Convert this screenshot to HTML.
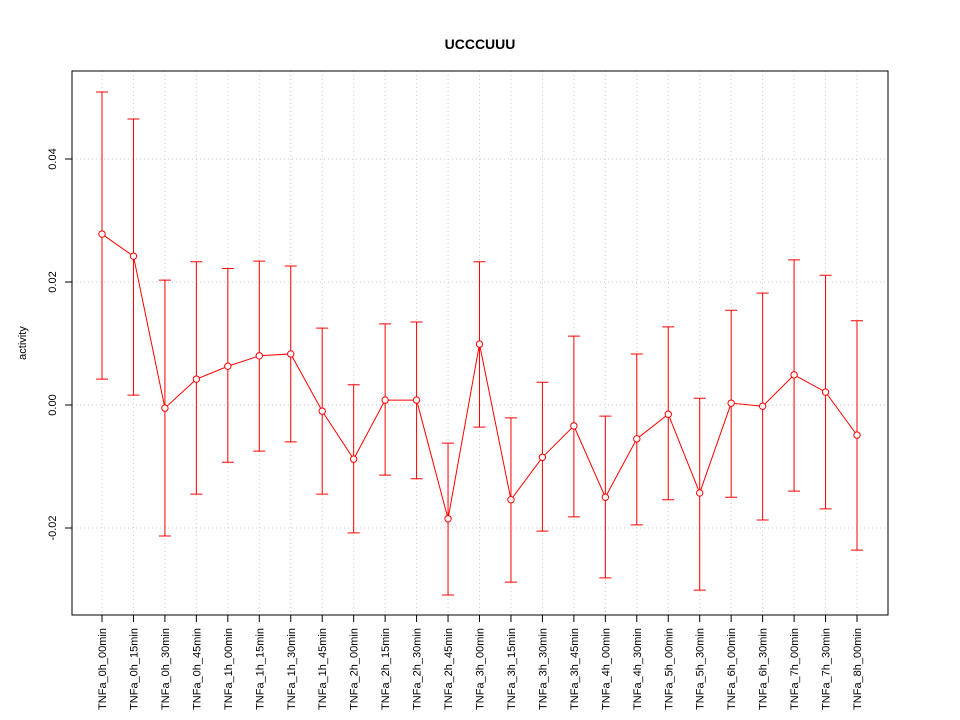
<!DOCTYPE html>
<html><head><meta charset="utf-8"><style>
body{margin:0;background:#fff}
svg{display:block;font-family:"Liberation Sans",sans-serif}
</style></head><body>
<svg id="chart" width="960" height="720">
<text x="480" y="49" text-anchor="middle" font-weight="bold" font-size="14">UCCCUUU</text>
<text transform="translate(26,343) rotate(-90)" text-anchor="middle" font-size="11">activity</text>
<g id="grid"></g><g id="axes"></g><g id="marks"></g>
<rect x="72" y="71" width="816" height="544" fill="none" stroke="#000"/>
</svg>
<script>
const categories=["TNFa_0h_00min","TNFa_0h_15min","TNFa_0h_30min","TNFa_0h_45min","TNFa_1h_00min","TNFa_1h_15min","TNFa_1h_30min","TNFa_1h_45min","TNFa_2h_00min","TNFa_2h_15min","TNFa_2h_30min","TNFa_2h_45min","TNFa_3h_00min","TNFa_3h_15min","TNFa_3h_30min","TNFa_3h_45min","TNFa_4h_00min","TNFa_4h_30min","TNFa_5h_00min","TNFa_5h_30min","TNFa_6h_00min","TNFa_6h_30min","TNFa_7h_00min","TNFa_7h_30min","TNFa_8h_00min"];
const values=[0.0278,0.0242,-0.0005,0.0042,0.0063,0.0080,0.0083,-0.0010,-0.0088,0.0008,0.0008,-0.0185,0.0099,-0.0154,-0.0085,-0.0034,-0.0150,-0.0055,-0.0015,-0.0143,0.0003,-0.0002,0.0049,0.0021,-0.0049];
const upper=[0.0509,0.0465,0.0203,0.0233,0.0222,0.0234,0.0226,0.0125,0.0033,0.0132,0.0135,-0.0062,0.0233,-0.0021,0.0037,0.0112,-0.0018,0.0083,0.0127,0.0011,0.0154,0.0182,0.0236,0.0211,0.0137];
const lower=[0.0042,0.0016,-0.0213,-0.0145,-0.0093,-0.0075,-0.0060,-0.0145,-0.0208,-0.0114,-0.0120,-0.0309,-0.0036,-0.0288,-0.0205,-0.0182,-0.0281,-0.0195,-0.0154,-0.0301,-0.0150,-0.0187,-0.0140,-0.0169,-0.0236];
const yTicks=[-0.02,0.00,0.02,0.04];
const yTickLabels=["-0.02","0.00","0.02","0.04"];
const NS="http://www.w3.org/2000/svg";
const x=i=>102+i*(857-102)/(categories.length-1);
const y=v=>405-v*6150;
function mk(tag,attrs,parent){const e=document.createElementNS(NS,tag);for(const k in attrs)e.setAttribute(k,attrs[k]);parent.appendChild(e);return e;}
const grid=document.getElementById('grid'),axes=document.getElementById('axes'),marks=document.getElementById('marks');
yTicks.forEach((t,i)=>{
 const g=mk('line',{x1:72,x2:888,y1:y(t),y2:y(t),stroke:'#ccc','stroke-dasharray':'1,3'},grid);
 
 
 const tk=mk('line',{x1:65,x2:72,y1:y(t),y2:y(t),stroke:'#000'},axes);
 
 
 const tx=mk('text',{transform:`translate(56,${y(t)}) rotate(-90)`,'text-anchor':'middle','font-size':11},axes);
 tx.textContent=yTickLabels[i];
 
 
});
categories.forEach((c,i)=>{
 const g=mk('line',{x1:x(i),x2:x(i),y1:71,y2:615,stroke:'#ccc','stroke-dasharray':'1,3'},grid);
 
 
 const tk=mk('line',{x1:x(i),x2:x(i),y1:615,y2:622,stroke:'#000'},axes);
 
 
 const tx=mk('text',{transform:`translate(${x(i)+4},628) rotate(-90)`,'text-anchor':'end','font-size':11},axes);
 tx.textContent=c;
 
 
});
categories.forEach((c,i)=>{
 const eb=mk('path',{d:`M${x(i)},${y(upper[i])}V${y(lower[i])}M${x(i)-6},${y(upper[i])}H${x(i)+6}M${x(i)-6},${y(lower[i])}H${x(i)+6}`,stroke:'#f00',fill:'none'},marks);
 
 
});
const ln=mk('polyline',{points:values.map((v,i)=>x(i)+','+y(v)).join(' '),stroke:'#f00',fill:'none'},marks);


values.forEach((v,i)=>{
 const p=mk('circle',{cx:x(i),cy:y(v),r:3.2,stroke:'#f00',fill:'#fff'},marks);
 
 
});
</script>
</body></html>
